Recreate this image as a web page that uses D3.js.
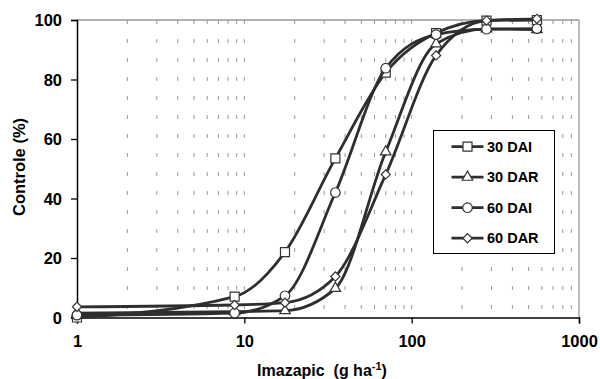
<!DOCTYPE html>
<html>
<head>
<meta charset="utf-8">
<script src="https://cdn.jsdelivr.net/npm/d3@7"></script>
<style>
  body { margin: 0; background: #fff; }
  svg { display: block; font-family: "Liberation Sans", Arial, sans-serif; font-weight: bold; }
</style>
</head>
<body>
<div id="chart"></div>
<script>
// doses (g ha-1), the untreated check is plotted at 1
const doses = [1, 8.75, 17.5, 35, 70, 140, 280, 560];

const dai30 = [0, 7, 22, 53.5, 82.3, 95.6, 99.8, 100];
const dar30 = [1.5, 2, 2.3, 9.8, 55.7, 92, 97, 96.8];
const dai60 = [0.8, 1.5, 7.3, 42, 83.8, 95.1, 96.9, 97.1];
const dar60 = [3.6, 4.2, 5, 13.8, 48.1, 88.1, 99.8, 100.4];

const seriesNames = ['30 DAI', '30 DAR', '60 DAI', '60 DAR'];
const seriesValues = [dai30, dar30, dai60, dar60];
const markerTypes = ['square', 'triangle', 'circle', 'diamond'];

const xTicks = [1, 10, 100, 1000];
const yTicks = [0, 20, 40, 60, 80, 100];
const gridValues = [2, 3, 4, 5, 6, 7, 8, 9, 10, 20, 30, 40, 50, 60, 70, 80, 90, 100,
  200, 300, 400, 500, 600, 700, 800, 900];

const width = 600, height = 379;
const margin = { left: 77, right: 21, top: 20, bottom: 61.5 };

const svg = d3.select('#chart')
  .append('svg')
  .attr('width', width)
  .attr('height', height);

const x = d3.scaleLog()
  .domain([1, 1000])
  .range([margin.left, width - margin.right]);

const y = d3.scaleLinear()
  .domain([0, 100])
  .range([height - margin.bottom, margin.top]);

const lineColor = '#2e2e2e';

// dashed vertical grid
svg.append('g')
  .selectAll('line')
  .data(gridValues)
  .enter()
  .append('line')
  .attr('x1', d => x(d))
  .attr('x2', d => x(d))
  .attr('y1', y(100))
  .attr('y2', y(0))
  .attr('stroke', '#999')
  .attr('stroke-width', 1)
  .attr('stroke-dasharray', '4,15');

// top and right border
svg.append('path')
  .attr('d', `M${x(1)},${y(100)}H${x(1000)}V${y(0)}`)
  .attr('fill', 'none')
  .attr('stroke', '#999')
  .attr('stroke-width', 1.3);

// axes
const xAxis = svg.append('g')
  .attr('transform', `translate(0,${y(0)})`)
  .call(d3.axisBottom(x).tickValues(xTicks).tickFormat(d3.format('d')).tickSize(6).tickPadding(12));

const yAxis = svg.append('g')
  .attr('transform', `translate(${x(1)},0)`)
  .call(d3.axisLeft(y).tickValues(yTicks).tickSize(6).tickPadding(9));

[xAxis, yAxis].forEach(a => {
  a.select('.domain').attr('stroke', '#000').attr('stroke-width', 1.5);
  a.selectAll('.tick line').attr('stroke', '#000').attr('stroke-width', 1.3);
  a.selectAll('.tick text')
    .attr('fill', '#000')
    .style('font-size', '16.5px')
    .style('font-weight', 'bold')
    .style('font-family', '"Liberation Sans", Arial, sans-serif');
});
yAxis.selectAll('.tick text').attr('dy', '0.36em');

// axis titles
const xTitle = svg.append('text')
  .attr('x', 322)
  .attr('y', 376)
  .attr('text-anchor', 'middle')
  .style('white-space', 'pre')
  .style('font-size', '16px');
xTitle.append('tspan').text('Imazapic  (g ha');
xTitle.append('tspan').attr('dy', -6).style('font-size', '11px').text('-1');
xTitle.append('tspan').attr('dy', 6).text(')');

svg.append('text')
  .attr('transform', 'translate(24.5,167) rotate(-90)')
  .attr('text-anchor', 'middle')
  .style('font-size', '16.5px')
  .text('Controle (%)');

// markers
function marker(sel, type) {
  if (type === 'circle') {
    sel.append('circle').attr('r', 4.8);
  } else if (type === 'square') {
    sel.append('path').attr('d', d3.symbol(d3.symbolSquare, 81)());
  } else if (type === 'triangle') {
    sel.append('path').attr('d', d3.symbol(d3.symbolTriangle, 48)());
  } else {
    sel.append('path').attr('d', d3.symbol(d3.symbolSquare, 42)()).attr('transform', 'rotate(45)');
  }
  sel.selectAll('circle, path')
    .attr('fill', '#fff')
    .attr('stroke', '#333')
    .attr('stroke-width', 1.2);
}

const line = d3.line()
  .x(d => x(d[0]))
  .y(d => y(d[1]))
  .curve(d3.curveMonotoneX);

seriesValues.forEach((vals, i) => {
  const pts = doses.map((d, j) => [d, vals[j]]);
  const g = svg.append('g');
  g.append('path')
    .attr('d', line(pts))
    .attr('fill', 'none')
    .attr('stroke', lineColor)
    .attr('stroke-width', 2.8);
  g.selectAll('g.pt')
    .data(pts)
    .enter()
    .append('g')
    .attr('class', 'pt')
    .attr('transform', d => `translate(${x(d[0])},${y(d[1])})`)
    .each(function () { marker(d3.select(this), markerTypes[i]); });
});

// legend
const legend = svg.append('g');
legend.append('rect')
  .attr('x', 433.5)
  .attr('y', 130.5)
  .attr('width', 121)
  .attr('height', 123)
  .attr('fill', '#fff')
  .attr('stroke', '#000')
  .attr('stroke-width', 1);

seriesNames.forEach((name, i) => {
  const cy = 146.7 + i * 30.5;
  const item = legend.append('g');
  item.append('line')
    .attr('x1', 451.5)
    .attr('x2', 483.5)
    .attr('y1', cy)
    .attr('y2', cy)
    .attr('stroke', lineColor)
    .attr('stroke-width', 2.8);
  const m = item.append('g').attr('transform', `translate(467.5,${cy})`);
  marker(m, markerTypes[i]);
  item.append('text')
    .attr('x', 487)
    .attr('y', cy)
    .attr('dy', '0.36em')
    .style('font-size', '14.5px')
    .text(name);
});
</script>
</body>
</html>
